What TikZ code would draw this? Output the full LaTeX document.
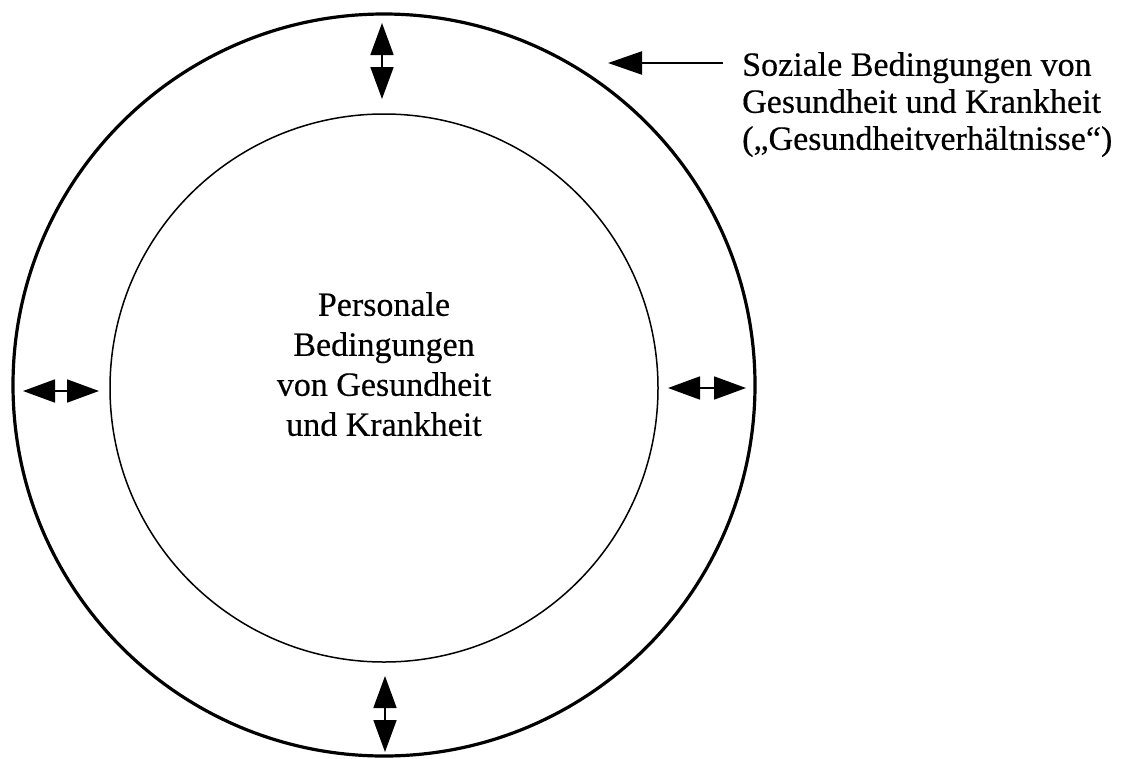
\documentclass[tikz,border=0pt]{standalone}
\usepackage{fontspec}
\setmainfont[FakeBold=0.4]{Liberation Serif}
\usetikzlibrary{arrows.meta}
\begin{document}
\begin{tikzpicture}[x=1pt,y=-1pt,
  ring/.style={circle, draw, inner sep=0pt},
  exchange/.style={{Triangle[length=32pt,width=23pt]}-{Triangle[length=32pt,width=23pt]}, line width=1.8pt},
  pointer/.style={-{Triangle[length=34pt,width=23pt]}, line width=2.2pt},
  caption/.style={inner sep=0pt}
]
% page
\fill[white] (0,0) rectangle (1127,758);
\useasboundingbox (0,0) rectangle (1127,758);

% social (outer) and personal (inner) conditions
\node[ring, minimum size=742pt, line width=3.2pt] (outer) at (384,385) {};
\node[ring, minimum size=548pt, line width=1.5pt] (inner) at (384,388) {};

\node[caption, anchor=north, align=center, font=\fontsize{34}{40}\selectfont] (personal) at (384,292)
  {Personale\\Bedingungen\\von Gesundheit\\und Krankheit};

% exchange arrows between the two rings
\coordinate (tA) at (382,23);  \coordinate (tB) at (382,99);
\coordinate (lA) at (23,391);  \coordinate (lB) at (99,391);
\coordinate (rA) at (668,388); \coordinate (rB) at (746,388);
\coordinate (bA) at (385,676); \coordinate (bB) at (385,752);
\draw[exchange] (tA) -- (tB);
\draw[exchange] (lA) -- (lB);
\draw[exchange] (rA) -- (rB);
\draw[exchange] (bA) -- (bB);

% label of the outer ring
\node[caption, anchor=north west, align=left, font=\fontsize{34}{37}\selectfont] (social) at (742,52)
  {Soziale Bedingungen von\\Gesundheit und Krankheit\\(„Gesundheitverhältnisse“)};
\coordinate (ptip) at (608,63);
\draw[pointer] (social.west |- ptip) ++(-19,0) coordinate (ptail) -- (ptip);
\end{tikzpicture}
\end{document}
